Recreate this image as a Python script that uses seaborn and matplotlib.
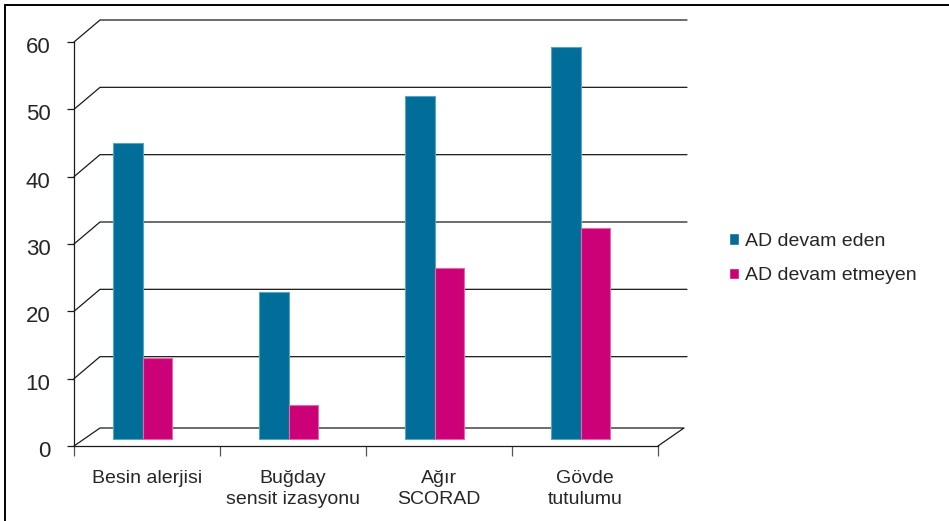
import matplotlib
matplotlib.use("Agg")
import matplotlib.pyplot as plt
import numpy as np
import pandas as pd
import seaborn as sns
from matplotlib.transforms import ScaledTranslation
from matplotlib.lines import Line2D

# ---- data ----
categories = ["Besin alerjisi", "Buğday\nsensit izasyonu", "Ağır\nSCORAD", "Gövde\ntutulumu"]
series_names = ["AD devam eden", "AD devam etmeyen"]
devam_eden = [44.0, 21.8, 51.0, 58.2]
devam_etmeyen = [12.0, 5.0, 25.4, 31.4]
y_ticks = [0, 10, 20, 30, 40, 50, 60]

colors = ["#006E99", "#CC0077"]
edge_colors = ["#5AA3C6", "#E268AB"]

df = pd.DataFrame({
    "Kategori": categories * 2,
    "Grup": [series_names[0]] * len(categories) + [series_names[1]] * len(categories),
    "Değer": devam_eden + devam_etmeyen,
})

sns.set_style("white")
plt.rcParams["font.family"] = ["Liberation Sans", "DejaVu Sans"]

W, H = 949, 521
fig = plt.figure(figsize=(W / 100, H / 100), dpi=100)
ax = fig.add_axes([74 / W, 75 / H, 584 / W, 404 / H])

sns.barplot(data=df, x="Kategori", y="Değer", hue="Grup", order=categories,
            hue_order=series_names, palette=colors, saturation=1, width=0.41,
            ax=ax, zorder=3)

ax.set_xlim(-0.5, 3.5)
ax.set_ylim(0, 60)

# bars sit at mid-depth of the pseudo-3D floor
offset = ScaledTranslation(-4.5 / 100, 7 / 100, fig.dpi_scale_trans)
for i, cont in enumerate(ax.containers):
    for bar in cont:
        bar.set_edgecolor(edge_colors[i])
        bar.set_linewidth(0.8)
        bar.set_transform(ax.transData + offset)
        bar.set_clip_on(False)

# pseudo-3D back wall gridlines and floor
px_x = 584 / 4
px_y = 404 / 60
ddx = 26 / px_x
ddy = 22 / px_y
for v in y_ticks[1:]:
    ax.plot([-0.5, -0.5 + ddx, 3.5 + ddx + 3 / px_x], [v, v + ddy, v + ddy],
            color="#1a1a1a", lw=0.9, clip_on=False, zorder=1)
fdy = 18 / px_y
ax.plot([-0.5, -0.5 + ddx, 3.5 + ddx, 3.5], [0, fdy, fdy, 0],
        color="#1a1a1a", lw=0.9, clip_on=False, zorder=1)

# axes styling
for s in ["top", "right"]:
    ax.spines[s].set_visible(False)
for s in ["left", "bottom"]:
    ax.spines[s].set_color("#1a1a1a")
    ax.spines[s].set_linewidth(0.9)

ax.set_yticks(y_ticks)
ax.tick_params(axis="y", left=True, length=5, width=0.9, pad=12,
               labelsize=16, color="#1a1a1a")
for lbl in ax.get_yticklabels():
    lbl.set_transform(lbl.get_transform() + ScaledTranslation(0, -3 / 100, fig.dpi_scale_trans))
ax.set_xticks(range(len(categories)))
ax.set_xticklabels(categories, fontsize=14, linespacing=1.3)
ax.tick_params(axis="x", which="major", length=0, pad=17)
ax.set_xticks([-0.5, 0.5, 1.5, 2.5, 3.5], minor=True)
ax.tick_params(axis="x", which="minor", bottom=True, length=7, width=0.9, color="#555555")
ax.set_xlabel("")
ax.set_ylabel("")

# legend
handles, labels = ax.get_legend_handles_labels()
if ax.get_legend() is not None:
    ax.get_legend().remove()
fig.legend(handles, labels, loc="center left", bbox_to_anchor=(729 / W, 1 - 258.5 / H),
           frameon=False, fontsize=14, handlelength=0.52, handleheight=0.52,
           handletextpad=0.3, labelspacing=0.9, borderpad=0, borderaxespad=0)

# figure border (top and left visible)
fig.add_artist(Line2D([5 / W, 1.0], [1 - 5 / H, 1 - 5 / H], transform=fig.transFigure,
                      color="black", lw=1.4))
fig.add_artist(Line2D([5 / W, 5 / W], [0.0, 1 - 5 / H], transform=fig.transFigure,
                      color="black", lw=1.4))

fig.savefig("out.png", dpi=100)
